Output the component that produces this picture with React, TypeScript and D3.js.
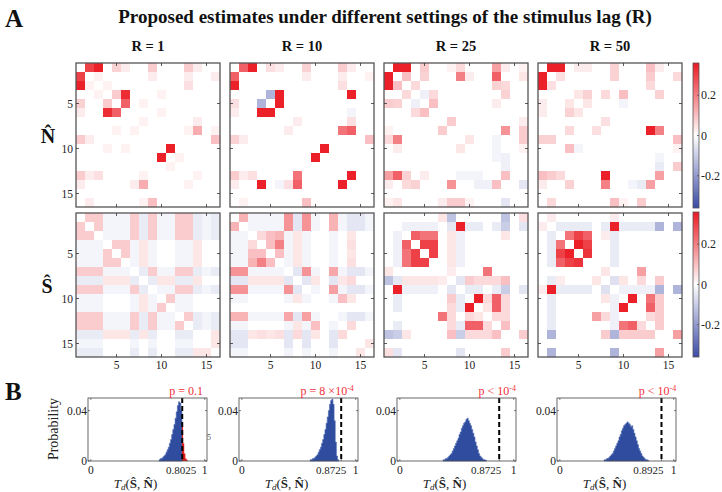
import React from 'react';
import * as d3 from 'd3';

// ---------------- data ----------------
const lagLabels = ['R = 1', 'R = 10', 'R = 25', 'R = 50'];
const cellIdx = d3.range(1, 17);
const axisTicks = [5, 10, 15];
const cbarTicks = [0.2, 0, -0.2];

type Entry = [number, number, number];

// N-hat: symmetric sparse entries [row, col, value] (row < col)
const N_R1: Entry[] = [
  [1, 2, .3], [1, 3, .35], [1, 5, .07], [1, 6, .03], [1, 9, .08], [1, 13, .08], [1, 14, .03],
  [2, 3, .02], [2, 9, .03], [2, 13, .03], [2, 16, .03], [3, 13, .05], [3, 4, .02],
  [4, 5, .08], [4, 6, .33], [4, 10, .02], [5, 6, .25], [5, 8, .02], [6, 10, .02],
  [7, 8, .02], [7, 14, .03], [8, 14, .13], [8, 16, .02], [8, 13, .02], [9, 16, .1],
  [10, 11, .35], [11, 12, .02], [13, 14, .02],
];
const N_R10: Entry[] = [
  [1, 2, .25], [1, 3, .35], [1, 5, .05], [1, 6, .03], [1, 9, .07], [1, 13, .08], [1, 14, .03],
  [2, 9, .03], [2, 13, .03], [2, 16, .02], [3, 13, .05],
  [4, 5, -.15], [4, 6, .35], [4, 14, .35], [5, 6, .35], [6, 14, -.02], [7, 14, .05], [7, 8, .03],
  [8, 13, .22], [8, 14, .25], [9, 16, .1], [10, 11, .35], [13, 14, .35],
];
const N_R25: Entry[] = [
  [1, 2, .35], [1, 3, .35], [1, 5, .08], [1, 8, .02], [1, 9, .06], [1, 13, .15], [1, 14, .03], [1, 16, .02],
  [2, 3, .1], [2, 5, .07], [2, 9, .2], [2, 10, .03], [2, 13, .25], [2, 16, .04],
  [3, 4, .06], [3, 13, .07], [3, 14, .06], [4, 5, -.03], [4, 14, .07], [4, 6, .06], [5, 6, .1], [5, 13, .03],
  [7, 8, .08], [7, 16, .03], [8, 14, .17], [8, 16, .08], [9, 16, .08], [9, 10, .04], [10, 16, .02],
  [13, 14, .1], [14, 16, -.05], [12, 14, -.03], [9, 13, -.02], [10, 13, -.02], [11, 13, -.02], [11, 14, -.03],
];
const N_R50: Entry[] = [
  [1, 2, .35], [1, 3, .35], [1, 5, .03], [1, 6, .03], [1, 9, .07], [1, 13, .1], [1, 14, .03],
  [2, 3, .05], [2, 9, .07], [2, 13, .08], [2, 16, .06], [3, 13, .06],
  [4, 6, .07], [4, 8, .06], [4, 10, .1], [4, 14, .07], [4, 5, .04], [5, 6, .04], [5, 10, -.02],
  [7, 8, .05], [8, 13, .35], [8, 14, .2], [9, 16, .1], [12, 14, -.04], [12, 16, .08],
  [13, 14, .15], [10, 16, .02], [11, 14, -.02],
];

// S-hat, R = 1 (full matrix)
const S_R1: number[][] = [
  [0, .08, .08, -.02, -.02, -.02, .08, -.04, .08, -.02, -.02, .08, .08, -.04, -.02, -.04],
  [.08, 0, .08, -.02, -.02, -.02, .08, -.04, .08, -.02, -.02, .08, .08, -.04, -.02, -.04],
  [.08, .08, 0, -.02, -.02, -.02, .08, -.04, .08, -.02, -.02, .08, .08, -.04, -.02, -.04],
  [-.02, -.02, -.02, 0, .08, .08, -.02, .04, -.02, 0, 0, -.02, -.02, .04, 0, 0],
  [-.02, -.02, -.02, .08, 0, .08, -.02, .04, -.02, 0, 0, -.02, -.02, .04, 0, 0],
  [-.02, -.02, -.02, .08, .08, 0, -.02, .04, -.02, 0, 0, -.02, -.02, .04, 0, 0],
  [.08, .08, .08, -.02, -.02, -.02, 0, -.04, .08, -.02, -.02, .08, .08, -.04, -.02, -.04],
  [-.04, -.04, -.04, .04, .04, .04, -.04, 0, -.04, .04, .04, -.04, -.04, .04, 0, 0],
  [.08, .08, .08, -.02, -.02, -.02, .08, -.04, 0, -.02, -.02, .08, .08, -.04, -.02, -.04],
  [-.02, -.02, -.02, 0, 0, 0, -.02, .04, -.02, 0, .08, -.02, -.02, 0, 0, 0],
  [-.02, -.02, -.02, 0, 0, 0, -.02, .04, -.02, .08, 0, -.02, -.02, 0, 0, 0],
  [.08, .08, .08, -.02, -.02, -.02, .08, -.04, .08, -.02, -.02, 0, .08, -.04, -.02, -.04],
  [.08, .08, .08, -.02, -.02, -.02, .08, -.04, .08, -.02, -.02, .08, 0, -.04, -.02, -.04],
  [-.04, -.04, -.04, .04, .04, .04, -.04, .04, -.04, 0, 0, -.04, -.04, 0, 0, .04],
  [-.02, -.02, -.02, 0, 0, 0, -.02, 0, -.02, 0, 0, -.02, -.02, 0, 0, .04],
  [-.04, -.04, -.04, 0, 0, 0, -.04, 0, -.04, 0, 0, -.04, -.04, .04, .04, 0],
];
// S-hat, R = 10 (full matrix)
const S_R10: number[][] = [
  [0, .12, -.02, -.02, -.02, -.02, .17, -.05, .17, -.02, 0, .12, -.02, -.05, -.05, -.02],
  [.12, 0, -.02, -.02, -.02, -.02, .17, -.05, .17, -.02, 0, .12, -.02, -.05, -.05, -.02],
  [-.02, -.02, 0, .06, .1, .12, -.02, .04, -.02, 0, 0, -.02, 0, .04, 0, 0],
  [-.02, -.02, .06, 0, .1, .2, -.02, .04, -.02, 0, 0, -.02, 0, .05, 0, 0],
  [-.02, -.02, .1, .1, 0, .1, -.02, .04, -.02, 0, 0, -.02, 0, .04, 0, 0],
  [-.02, -.02, .12, .2, .1, 0, -.02, .04, -.02, 0, 0, -.02, 0, .05, 0, 0],
  [.17, .17, -.02, -.02, -.02, -.02, 0, -.05, .17, -.02, 0, .14, -.02, -.05, -.05, -.02],
  [-.05, -.05, .04, .04, .04, .04, -.05, 0, -.05, .04, 0, -.05, .04, .06, 0, 0],
  [.17, .17, -.02, -.02, -.02, -.02, .17, -.05, 0, -.02, 0, .15, -.02, -.05, -.05, -.02],
  [-.02, -.02, 0, 0, 0, 0, -.02, .04, -.02, 0, 0, -.02, .1, .04, 0, 0],
  [0, 0, 0, 0, 0, 0, 0, 0, 0, 0, 0, 0, 0, 0, 0, 0],
  [.12, .12, -.02, -.02, -.02, -.02, .14, -.05, .15, -.02, 0, 0, -.02, -.05, -.05, -.02],
  [-.02, -.02, 0, 0, 0, 0, -.02, .04, -.02, .1, 0, -.02, 0, .06, 0, 0],
  [-.05, -.05, .04, .05, .04, .05, -.05, .06, -.05, .04, 0, -.05, .06, 0, 0, 0],
  [-.05, -.05, 0, 0, 0, 0, -.05, 0, -.05, 0, 0, -.05, 0, 0, 0, .04],
  [-.02, -.02, 0, 0, 0, 0, -.02, 0, -.02, 0, 0, -.02, 0, 0, .04, 0],
];
// S-hat, R = 25 / 50 (symmetric sparse entries)
const S_R25: Entry[] = [
  [2, 9, .35], [3, 4, .25], [3, 5, .22], [3, 6, .22], [4, 5, .3], [4, 6, .3], [5, 6, .3],
  [7, 12, .22], [10, 11, .35], [10, 13, .25], [11, 13, .25], [10, 12, .06], [11, 12, .04], [12, 13, .06],
  [1, 8, -.12], [1, 14, -.12], [1, 16, .05], [8, 10, .08], [8, 11, .06], [8, 12, .06], [8, 13, .06], [8, 14, .1],
  [14, 16, .08], [2, 3, -.03], [2, 4, -.03], [2, 5, -.03], [2, 6, -.03], [3, 9, -.03], [4, 9, -.03], [5, 9, -.03], [6, 9, -.03],
  [2, 14, -.1], [9, 14, -.1], [2, 16, -.05], [9, 16, -.05], [2, 10, -.04], [2, 11, -.04], [2, 13, -.04],
  [9, 10, -.04], [9, 11, -.04], [9, 13, -.04], [8, 9, -.05], [2, 8, -.05],
  [10, 14, .06], [11, 14, .06], [12, 14, .06], [13, 14, .1], [3, 8, .04], [4, 8, .04], [5, 8, .04], [6, 8, .04],
  [3, 14, .04], [1, 7, .04], [7, 8, .03],
];
const S_R50: Entry[] = [
  [2, 9, .35], [3, 4, .22], [3, 5, .3], [3, 6, .25], [4, 5, .35], [4, 6, .3], [5, 6, .32],
  [7, 12, .15], [10, 11, .35], [10, 13, .22], [11, 13, .25], [12, 13, .06],
  [2, 14, -.15], [2, 16, -.15], [9, 14, -.15], [9, 16, -.15], [14, 16, .15],
  [8, 14, .08], [10, 14, .08], [11, 14, .08], [12, 14, .08], [13, 14, .08],
  [2, 3, -.04], [2, 4, -.04], [2, 5, -.04], [2, 6, -.04], [3, 9, -.04], [4, 9, -.04], [5, 9, -.04], [6, 9, -.04],
  [2, 10, -.04], [2, 11, -.04], [2, 12, -.04], [2, 13, -.04], [9, 10, -.03], [9, 11, -.03], [9, 12, -.03], [9, 13, -.03],
  [8, 9, -.06], [2, 8, -.04], [8, 12, .06], [8, 10, .04], [7, 8, .04], [3, 8, .03], [1, 2, .03], [1, 9, .03],
];

// Histograms: bin start, bin width 0.01, probability per bin
const histStart = [0.6, 0.6, 0.38, 0.39];
const hist1 = [.001, .002, .002, .003, .004, .005, .007, .009, .011, .014, .017, .021, .025, .029, .034, .039, .044, .047, .046, .040, .028, .014, .006, .002, .001];
const hist2 = [.001, .001, .002, .002, .003, .004, .005, .007, .009, .011, .014, .017, .021, .025, .030, .035, .040, .045, .048, .049, .045, .032, .015, .004, .001];
const hist3 = [.001, .001, .002, .002, .003, .004, .005, .006, .008, .010, .012, .014, .016, .018, .021, .023, .026, .028, .030, .031, .033, .034, .032, .030, .028, .025, .022, .019, .015, .012, .009, .006, .004, .003, .002, .001, .001, .0005];
const hist4 = [.001, .001, .002, .002, .003, .004, .005, .006, .008, .010, .012, .014, .016, .019, .021, .024, .026, .028, .029, .030, .031, .030, .029, .027, .028, .025, .022, .019, .016, .013, .010, .008, .006, .004, .003, .002, .001, .001, .0005];
const observed = [0.8025, 0.8725, 0.8725, 0.8925];
const observedLabels = ['0.8025', '0.8725', '0.8725', '0.8925'];
const pLabels = [['p = 0.1', ''], ['p =  8 ×10', '-4'], ['p < 10', '-4'], ['p < 10', '-4']];

// ---------------- helpers ----------------
function fromSparse(entries: Entry[]): number[][] {
  const m = cellIdx.map(() => cellIdx.map(() => 0));
  entries.forEach(([i, j, v]) => {
    m[i - 1][j - 1] = v;
    m[j - 1][i - 1] = v;
  });
  return m;
}

const topMats = [N_R1, N_R10, N_R25, N_R50].map(fromSparse);
const botMats = [S_R1, S_R10, fromSparse(S_R25), fromSparse(S_R50)];
const hists = [hist1, hist2, hist3, hist4];

const VMAX = 0.36;
const color = d3.scaleLinear<string>()
  .domain([-VMAX, 0, VMAX])
  .range(['#3c4aa6', '#ffffff', '#ea1a22'])
  .interpolate(d3.interpolateRgb)
  .clamp(true);

const SERIF = '"Liberation Serif", "Times New Roman", serif';
const PANEL = 144;
const panelX = [76, 230, 384, 538];
const panelY = [63, 213];
const band = d3.scaleBand<number>().domain(cellIdx).range([0, PANEL]);
const pos = d3.scaleLinear().domain([0.5, 16.5]).range([0, PANEL]);

function Heat({ m, x0, y0, showY, showX }: { m: number[][]; x0: number; y0: number; showY: boolean; showX: boolean }) {
  const tl = 3;
  return (
    <g transform={`translate(${x0},${y0})`}>
      {m.map((row, r) => row.map((v, c) => (
        <rect key={`${r}-${c}`} x={band(c + 1)} y={band(r + 1)} width={band.bandwidth() + 0.3} height={band.bandwidth() + 0.3} fill={color(v)} />
      )))}
      <rect x={0} y={0} width={PANEL} height={PANEL} fill="none" stroke="#555" strokeWidth={1.3} />
      {axisTicks.map(t => (
        <g key={t} stroke="#333" strokeWidth={0.8}>
          <line x1={pos(t)} x2={pos(t)} y1={0} y2={tl} />
          <line x1={pos(t)} x2={pos(t)} y1={PANEL} y2={PANEL - tl} />
          <line y1={pos(t)} y2={pos(t)} x1={0} x2={tl} />
          <line y1={pos(t)} y2={pos(t)} x1={PANEL} x2={PANEL - tl} />
        </g>
      ))}
      {showY && axisTicks.map(t => (
        <text key={'y' + t} x={-3} y={pos(t)} dy="0.35em" textAnchor="end" fontSize={11.5} fontFamily={SERIF} fill="#222">{t}</text>
      ))}
      {showX && axisTicks.map(t => (
        <text key={'x' + t} x={pos(t)} y={PANEL + 12} textAnchor="middle" fontSize={11.5} fontFamily={SERIF} fill="#222">{t}</text>
      ))}
    </g>
  );
}

function ColorBar({ y0 }: { y0: number }) {
  const x0 = 693, w = 6, h = 145;
  const y = d3.scaleLinear().domain([-VMAX, VMAX]).range([h, 0]);
  const id = `cb${y0}`;
  return (
    <g transform={`translate(${x0},${y0})`}>
      <defs>
        <linearGradient id={id} x1="0" x2="0" y1="1" y2="0">
          {[-VMAX, 0, VMAX].map((v, i) => (
            <stop key={i} offset={`${(i / 2) * 100}%`} stopColor={color(v)} />
          ))}
        </linearGradient>
      </defs>
      <rect x={0} y={0} width={w} height={h} fill={`url(#${id})`} stroke="#555" strokeWidth={0.8} />
      {cbarTicks.map(t => (
        <g key={t}>
          <line x1={w} x2={w - 2} y1={y(t)} y2={y(t)} stroke="#333" strokeWidth={0.6} />
          <text x={w + 2} y={y(t)} dy="0.35em" fontSize={12} fontFamily={SERIF} fill="#222">{t === 0 ? '0' : t.toString()}</text>
        </g>
      ))}
    </g>
  );
}

const histX = [88, 239, 397, 557];
const HW = 119, HY = 398, HH = 63;
const obsLabelOffset = [-1, -10, -13, -13];
const pLabelOffset = [4, -14, -2, -4];

function Hist({ k }: { k: number }) {
  const x = d3.scaleLinear().domain([-0.025, 1.02]).range([0, HW]);
  const y = d3.scaleLinear().domain([0, 0.05]).range([HH, 0]);
  const data = hists[k];
  const start = histStart[k];
  const bw = 0.01;
  const obs = observed[k];
  const px = x(obs);
  const bins = data.map((v, i) => ({ x0: start + i * bw, v }));
  const area = d3.area<{ x0: number; v: number }>()
    .x(d => x(d.x0))
    .y0(HH)
    .y1(d => y(d.v))
    .curve(d3.curveStepAfter);
  const closed = [...bins, { x0: start + data.length * bw, v: 0 }];
  const blue = closed.filter(d => k !== 0 || d.x0 <= 0.8);
  const red = k === 0 ? closed.filter(d => d.x0 >= 0.8) : [];
  return (
    <g transform={`translate(${histX[k]},${HY})`}>
      <path d={area(blue) || ''} fill="#2f4c9e" stroke="#4763b0" strokeWidth={0.6} />
      {red.length > 0 && <path d={area(red) || ''} fill="#e01b1b" />}
      <line x1={px} x2={px} y1={0} y2={HH} stroke="#000" strokeWidth={2} strokeDasharray="5,3" />
      <rect x={0} y={0} width={HW} height={HH} fill="none" stroke="#444" strokeWidth={0.8} />
      {[0, obs, 1].map((t, i) => (
        <g key={i}>
          <line x1={x(t)} x2={x(t)} y1={HH} y2={HH - 2} stroke="#333" strokeWidth={0.6} />
          <line x1={x(t)} x2={x(t)} y1={0} y2={2} stroke="#333" strokeWidth={0.6} />
        </g>
      ))}
      {[0, 0.04].map(t => (
        <g key={t}>
          <line x1={0} x2={2} y1={y(t)} y2={y(t)} stroke="#333" strokeWidth={0.6} />
          <line x1={HW} x2={HW - 2} y1={y(t)} y2={y(t)} stroke="#333" strokeWidth={0.6} />
          <text x={-1} y={y(t)} dy="0.35em" textAnchor="end" fontSize={11.5} fontFamily={SERIF} fill="#222">{t === 0 ? '0' : '0.04'}</text>
        </g>
      ))}
      <text x={x(0)} y={HH + 13} textAnchor="middle" fontSize={11.5} fontFamily={SERIF} fill="#222">0</text>
      <text x={px + obsLabelOffset[k]} y={HH + 13} textAnchor="middle" fontSize={11} fontFamily={SERIF} fill="#222">{observedLabels[k]}</text>
      <text x={x(1)} y={HH + 13} textAnchor="middle" fontSize={11.5} fontFamily={SERIF} fill="#222">1</text>
      <text x={px + pLabelOffset[k]} y={-3} textAnchor="middle" fontSize={12} fontFamily={SERIF} fill="#f0303a">
        {pLabels[k][0]}
        {pLabels[k][1] && <tspan dy={-4} fontSize={8}>{pLabels[k][1]}</tspan>}
      </text>
      <text x={HW / 2 - 12} y={HH + 27} textAnchor="middle" fontSize={13} fontFamily={SERIF} fill="#222">
        <tspan fontStyle="italic">T</tspan>
        <tspan fontStyle="italic" fontSize={9} dy={2}>d</tspan>
        <tspan dy={-2}>(</tspan>
        <tspan fontWeight="bold">{'S\u0302'}</tspan>
        <tspan>, </tspan>
        <tspan fontWeight="bold">{'N\u0302'}</tspan>
        <tspan>)</tspan>
      </text>
    </g>
  );
}

export default function App() {
  return (
    <div style={{ position: 'absolute', left: 0, top: 0, width: 722, height: 492, background: '#fff' }}>
      <svg width={722} height={492} style={{ display: 'block' }}>
        <rect width={722} height={492} fill="#fff" />
        <text x={5} y={27} fontSize={25} fontWeight="bold" fontFamily={SERIF} fill="#111">A</text>
        <text x={385} y={23} textAnchor="middle" fontSize={19} fontWeight="bold" fontFamily={SERIF} fill="#111">
          Proposed estimates under different settings of the stimulus lag (R)
        </text>
        {lagLabels.map((l, i) => (
          <text key={l} x={panelX[i] + PANEL / 2} y={51} textAnchor="middle" fontSize={14.5} fontWeight="bold" fontFamily={SERIF} fill="#111">{l}</text>
        ))}
        <text x={48} y={143} textAnchor="middle" fontSize={20} fontWeight="bold" fontFamily={SERIF} fill="#111">{'N\u0302'}</text>
        <text x={47} y={293} textAnchor="middle" fontSize={20} fontWeight="bold" fontFamily={SERIF} fill="#111">{'S\u0302'}</text>
        {topMats.map((m, i) => (
          <Heat key={'t' + i} m={m} x0={panelX[i]} y0={panelY[0]} showY={i === 0} showX={false} />
        ))}
        {botMats.map((m, i) => (
          <Heat key={'b' + i} m={m} x0={panelX[i]} y0={panelY[1]} showY={i === 0} showX={true} />
        ))}
        <ColorBar y0={63} />
        <ColorBar y0={212} />
        <text x={5} y={400} fontSize={25} fontWeight="bold" fontFamily={SERIF} fill="#111">B</text>
        <text transform="translate(58,429) rotate(-90)" textAnchor="middle" fontSize={14} fontFamily={SERIF} fill="#222">Probability</text>
        <text x={209} y={440} textAnchor="middle" fontSize={8} fontFamily={SERIF} fill="#555">5</text>
        {[0, 1, 2, 3].map(k => <Hist key={k} k={k} />)}
      </svg>
    </div>
  );
}
